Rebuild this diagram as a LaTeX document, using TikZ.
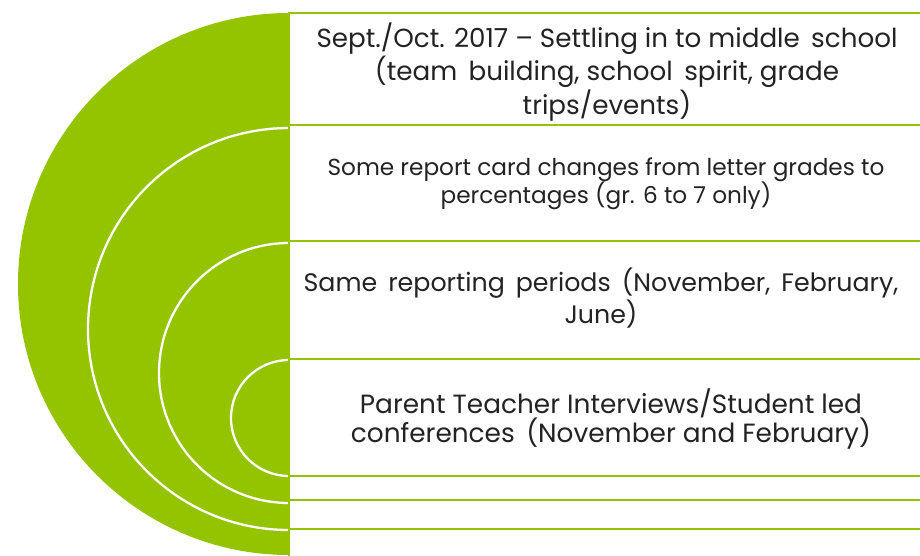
\documentclass[tikz,border=0pt]{standalone}
\usepackage{fontspec}
\setmainfont{Poppins}
\definecolor{leaf}{RGB}{148,196,0}
\definecolor{ink}{RGB}{35,35,35}

\begin{document}
\begin{tikzpicture}[x=0.02cm, y=-0.02cm]
\useasboundingbox (0,0) rectangle (920,555);
\clip (0,0) rectangle (920,555);
\fill[leaf] (289,13) arc (270:90:271) -- cycle;
\foreach \t/\r in {128/201, 243/130, 360/58}
	\draw[white, line width=1.3pt] (289,\t) arc (270:90:\r);
\foreach \t/\b in {13/560, 125/529, 241/500, 359/476}
	\filldraw[fill=white, draw=leaf, line width=1.2pt] (289,\t) rectangle (924,\b);
\node[text=ink, align=center, font=\fontsize{14.9}{17}\selectfont] (sept) at (607,72) {Sept./Oct. 2017 -- Settling in to middle\, school\\(team\, building, school\, spirit, grade\\trips/events)};
\node[text=ink, align=center, font=\fontsize{13.2}{16}\selectfont] (report) at (606,184) {Some report card changes from letter grades to\\percentages (gr. 6 to 7 only)};
\node[text=ink, align=center, font=\fontsize{14.4}{17}\selectfont] (periods) at (601,298) {Same\, reporting\, periods\, (November,\, February,\\June)};
\node[text=ink, align=center, font=\fontsize{15}{17}\selectfont] (interviews) at (611,419) {Parent Teacher Interviews/Student led\\conferences\, (November and February)};
\end{tikzpicture}
\end{document}
